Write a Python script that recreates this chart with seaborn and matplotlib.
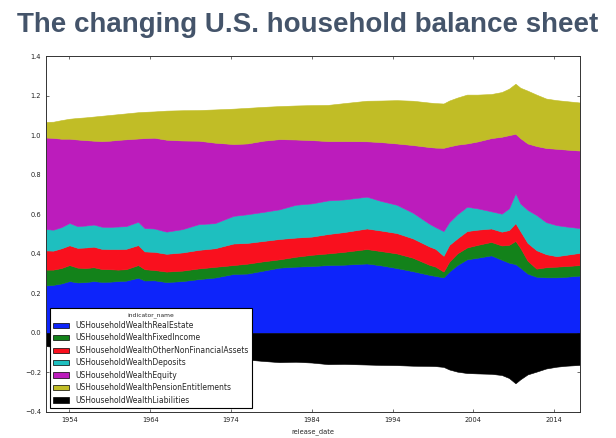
import matplotlib
matplotlib.use("Agg")
import matplotlib.pyplot as plt
from matplotlib.patches import Patch
import pandas as pd
import seaborn as sns

# release dates (decimal years)
years = [1951.1, 1952.0, 1953.0, 1954.0, 1955.0, 1956.0, 1957.0, 1958.0, 1959.0, 1960.0,
         1961.0, 1962.5, 1963.3, 1964.5, 1966.0, 1968.0, 1970.0, 1972.0, 1974.3, 1976.0,
         1978.0, 1980.0, 1982.0, 1984.0, 1986.0, 1988.0, 1990.8, 1992.5, 1994.5, 1996.5,
         1998.5, 1999.3, 2000.3, 2001.0, 2002.0, 2003.2, 2004.5, 2006.2, 2007.5, 2008.4,
         2009.2, 2009.8, 2010.7, 2011.8, 2013.0, 2014.3, 2015.5, 2017.2]

real_estate = [.240, .243, .250, .262, .255, .257, .262, .258, .259, .262,
               .264, .279, .265, .266, .257, .262, .272, .280, .298, .300,
               .315, .330, .335, .338, .343, .345, .351, .342, .328, .312,
               .294, .288, .281, .310, .343, .372, .380, .392, .370, .355,
               .348, .330, .300, .284, .281, .281, .284, .290]
fixed_income = [.080, .077, .078, .081, .075, .071, .070, .065, .063, .058,
                .058, .064, .057, .052, .053, .053, .054, .054, .045, .050,
                .047, .042, .050, .057, .059, .065, .073, .072, .074, .068,
                .051, .047, .029, .050, .059, .060, .065, .068, .072, .090,
                .117, .100, .065, .041, .051, .054, .054, .053]
other_nonfin = [.097, .096, .100, .100, .100, .104, .104, .102, .102, .104,
                .103, .101, .090, .092, .090, .092, .094, .094, .109, .105,
                .103, .103, .097, .092, .098, .100, .104, .104, .103, .098,
                .093, .090, .080, .085, .076, .083, .077, .068, .070, .075,
                .090, .085, .090, .093, .066, .053, .057, .062]
deposits = [.108, .106, .107, .113, .110, .111, .112, .112, .112, .114,
            .115, .118, .118, .118, .112, .118, .130, .127, .140, .145,
            .147, .150, .166, .168, .170, .165, .161, .150, .143, .130,
            .115, .110, .125, .115, .122, .123, .108, .087, .091, .110,
            .151, .140, .167, .178, .162, .157, .143, .125]
equity = [.463, .464, .447, .426, .438, .432, .424, .433, .436, .438,
          .439, .421, .455, .459, .465, .448, .422, .407, .363, .358,
          .360, .355, .330, .320, .300, .295, .280, .297, .310, .342,
          .387, .402, .421, .383, .352, .320, .338, .370, .389, .370,
          .301, .330, .336, .349, .375, .386, .389, .392]
pension = [.079, .082, .094, .101, .109, .115, .122, .128, .130, .130,
           .131, .133, .133, .133, .147, .153, .155, .168, .179, .180,
           .171, .167, .172, .177, .183, .192, .205, .210, .219, .224,
           .225, .225, .224, .232, .238, .247, .237, .223, .226, .235,
           .253, .255, .267, .260, .250, .246, .245, .243]
liabilities = [-.067, -.070, -.076, -.082, -.086, -.090, -.094, -.098, -.101, -.104,
               -.108, -.113, -.116, -.118, -.121, -.124, -.126, -.128, -.130, -.135,
               -.142, -.148, -.146, -.150, -.158, -.157, -.160, -.162, -.163, -.166,
               -.167, -.168, -.172, -.185, -.196, -.203, -.205, -.207, -.213, -.228,
               -.255, -.235, -.210, -.196, -.180, -.171, -.166, -.162]

names = ["USHouseholdWealthRealEstate", "USHouseholdWealthFixedIncome",
         "USHouseholdWealthOtherNonFinancialAssets", "USHouseholdWealthDeposits",
         "USHouseholdWealthEquity", "USHouseholdWealthPensionEntitlements",
         "USHouseholdWealthLiabilities"]
colors = ["#0d24fa", "#13821a", "#f9101e", "#1ebfbf", "#bc1cbc", "#c1bd26", "#000000"]

df = pd.DataFrame({"release_date": years,
                   names[0]: real_estate, names[1]: fixed_income, names[2]: other_nonfin,
                   names[3]: deposits, names[4]: equity, names[5]: pension,
                   names[6]: liabilities}).set_index("release_date")

sns.set_theme(style="ticks", rc={
    "axes.edgecolor": "#333333", "axes.linewidth": 0.7,
    "xtick.direction": "in", "ytick.direction": "in",
    "xtick.top": True, "ytick.right": True,
    "xtick.major.size": 2.5, "ytick.major.size": 2.5,
    "xtick.major.width": 0.5, "ytick.major.width": 0.5,
    "xtick.labelsize": 4.8, "ytick.labelsize": 4.8,
    "axes.labelsize": 4.8,
})
plt.rcParams["font.family"] = ["DejaVu Sans"]
pal = sns.color_palette(colors)

fig = plt.figure(figsize=(6.16, 4.38), dpi=100)
ax = fig.add_axes([0.0747, 0.0594, 0.867, 0.8126])

ax.stackplot(df.index, [df[n] for n in names[:6]], colors=pal[:6], lw=0.4, edgecolor="face")
ax.fill_between(df.index, df[names[6]], 0, color=pal[6], lw=0.4, edgecolor="face")

ax.set_xlim(df.index.min(), df.index.max())
ax.set_ylim(-0.4, 1.4)
ax.set_yticks([-0.4, -0.2, 0.0, 0.2, 0.4, 0.6, 0.8, 1.0, 1.2, 1.4])
ax.set_xticks(list(range(1954, 2015, 10)))
ax.set_xticklabels([str(y) for y in range(1954, 2015, 10)])
ax.set_xlabel("release_date", labelpad=4)
ax.tick_params(colors="#333333", labelcolor="#222222", pad=3.5)

handles = [Patch(facecolor=c, edgecolor="black", linewidth=0.5) for c in pal]
leg = ax.legend(handles, names, loc="lower left", bbox_to_anchor=(0.0075, 0.011),
                borderaxespad=0, fontsize=5.5, title="indicator_name",
                title_fontsize=4.3, frameon=True, fancybox=False,
                labelspacing=0.45, handlelength=2.1, borderpad=0.45)
leg.get_frame().set_edgecolor("black")
leg.get_frame().set_linewidth(0.8)
leg.get_frame().set_alpha(1)

fig.text(0.5, 0.927, "The changing U.S. household balance sheet", ha="center",
         va="baseline", fontsize=20, fontweight="bold", color="#44546a",
         family=["Liberation Sans", "DejaVu Sans"])

fig.savefig("out.png", dpi=100, facecolor="white")
